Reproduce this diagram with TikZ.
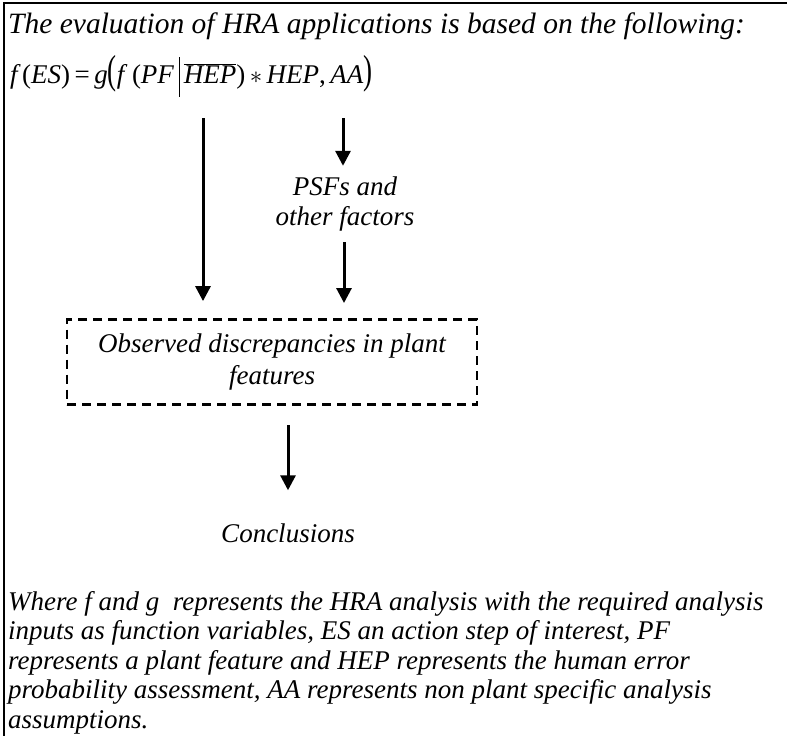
\documentclass[tikz,border=0pt]{standalone}
\usepackage{fontspec}
\usepackage{graphicx}
\usetikzlibrary{arrows.meta}
\setmainfont{Liberation Serif}

\tikzset{
  txt/.style={font=\fontsize{27}{29.5}\selectfont\itshape, inner sep=0pt},
  flow/.style={line width=3pt, -{Triangle[length=15pt,width=15pt]}},
}
\newcommand{\bigpar}[1]{\scalebox{1}[1.5]{\upshape #1}}

\begin{document}
\begin{tikzpicture}[x=1pt,y=-1pt]
        \useasboundingbox (0,0) rectangle (787,736);
        \draw[line width=2.8pt] (787,3) -- (4,3) -- (4,736);

        \node[txt, font=\fontsize{29.5}{32}\selectfont\itshape, anchor=west] (title) at (8,26)
          {The evaluation of HRA applications is based on the following:};
        \node[txt, anchor=west] (formula) at (10,76)
          {\textit{f}\,\upshape(\textit{ES})\,=\,\textit{g}\bigpar{(}\textit{f}\,\upshape(\textit{PF}\,\rule[-13pt]{0.6pt}{40pt}\,$\overline{\hbox{\itshape HEP}}$\upshape)\,$*$\,\textit{HEP},\,\textit{AA}\bigpar{)}};

        \node[txt, align=center] (psf) at (345,204) {PSFs and\\other factors};
        \node[txt, font=\fontsize{27}{32}\selectfont\itshape, align=center, draw, dashed,
              dash pattern=on 9pt off 6pt, line width=2.8pt,
              minimum width=410pt, minimum height=85pt] (observed) at (272,362)
          {Observed discrepancies in plant\\features};
        \node[txt] (concl) at (288,533) {Conclusions};

        \coordinate (fleft) at (203,118);
        \coordinate (fright) at (343,118);
        \coordinate (oright) at (344,320);
        \coordinate (obot) at (288,425);

        \draw[flow, shorten >=17pt] (fleft) -- (fleft |- observed.north);
        \draw[flow, shorten >=11pt] (fright) -- (psf.north -| fright);
        \draw[flow, shorten <=11pt, shorten >=17pt] (psf.south -| oright) -- (oright);
        \draw[flow, shorten >=33pt] (obot) -- (concl.north -| obot);

        \node[txt, anchor=north west, align=left] (note) at (8,591)
          {Where f and g\ \ represents the HRA analysis with the required analysis\\
           inputs as function variables, ES an action step of interest, PF\\
           represents a plant feature and HEP represents the human error\\
           probability assessment, AA represents non plant specific analysis\\
           assumptions.};
\end{tikzpicture}
\end{document}
